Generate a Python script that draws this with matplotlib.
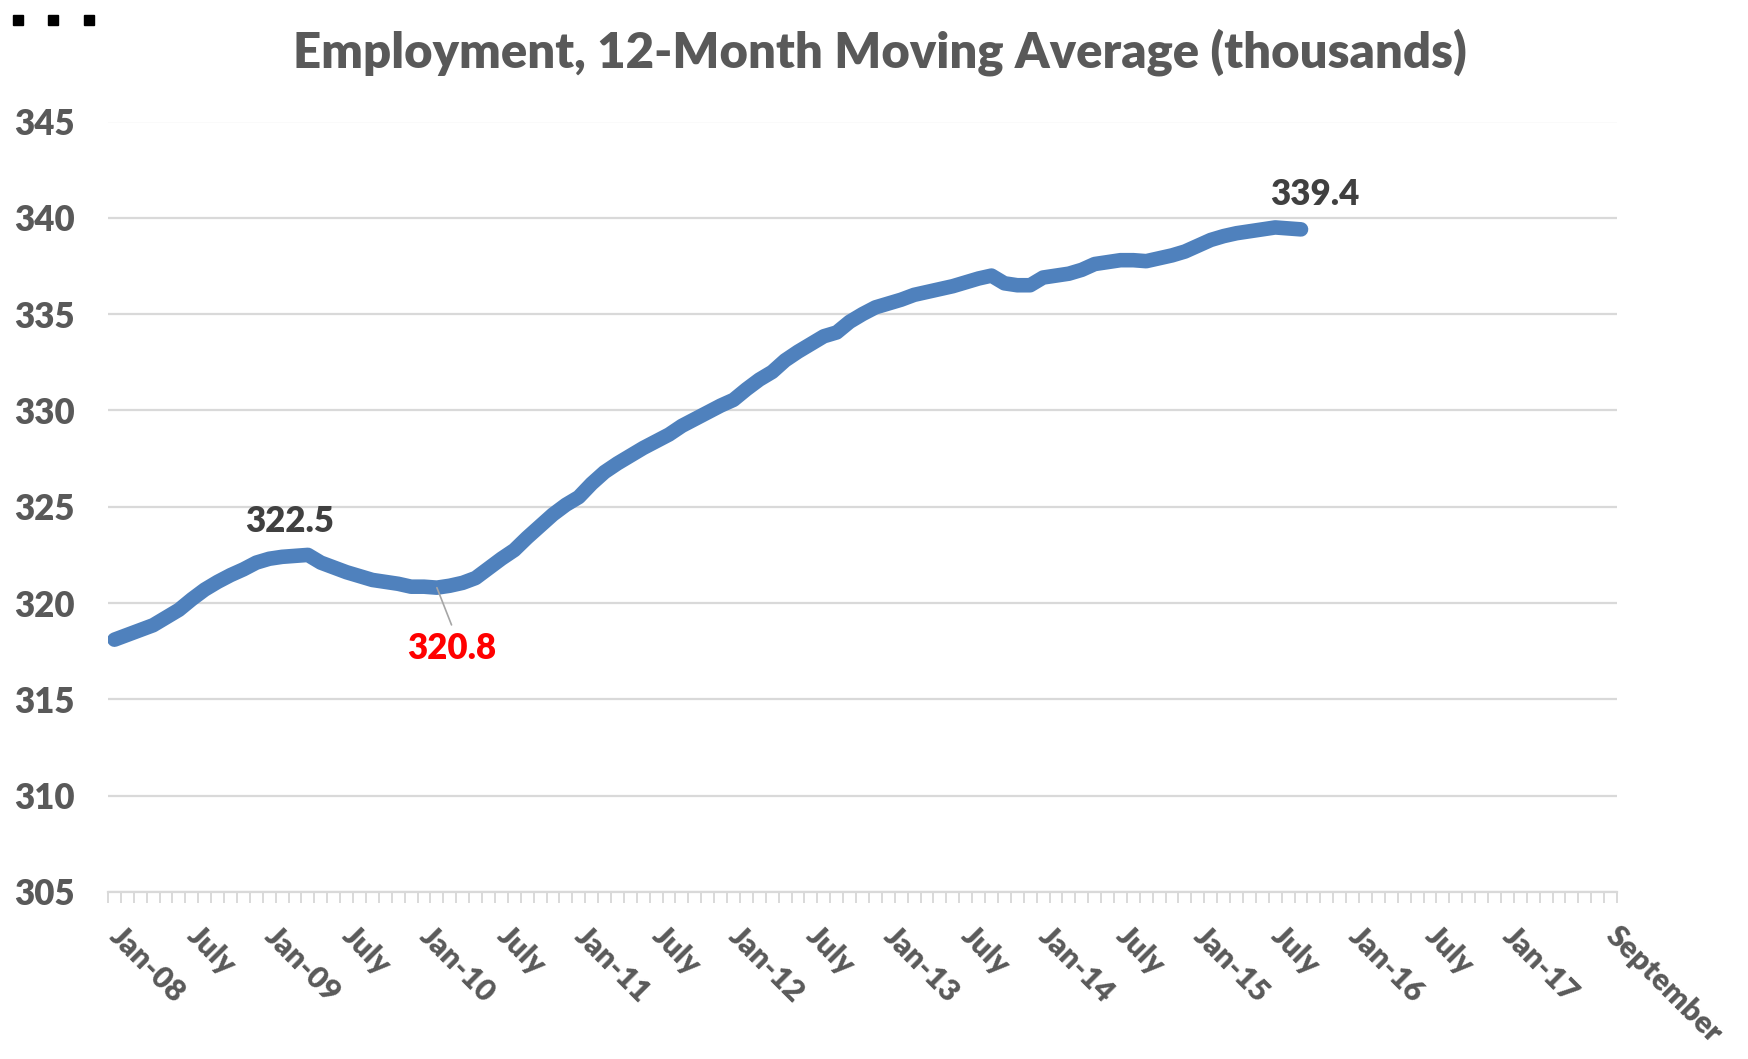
import numpy as np
import matplotlib
matplotlib.use("Agg")
import matplotlib.pyplot as plt
from matplotlib.patches import Rectangle

plt.rcParams['font.family'] = ['Lato', 'DejaVu Sans']

# monthly values, Jan-08 .. Sep-15 (thousands)
employment = [
    318.1, 318.35, 318.6, 318.85, 319.25, 319.65, 320.2, 320.7, 321.1, 321.45,
    321.75, 322.1, 322.3, 322.4, 322.45, 322.5, 322.1, 321.85, 321.6, 321.4,
    321.2, 321.1, 321.0, 320.85, 320.85, 320.8, 320.9, 321.05, 321.3, 321.8,
    322.3, 322.75, 323.4, 324.0, 324.6, 325.1, 325.5, 326.2, 326.8, 327.25,
    327.65, 328.05, 328.4, 328.75, 329.2, 329.55, 329.9, 330.25, 330.55, 331.1,
    331.6, 332.0, 332.6, 333.05, 333.45, 333.85, 334.05, 334.6, 335.0, 335.35,
    335.55, 335.75, 336.0, 336.15, 336.3, 336.45, 336.65, 336.85, 337.0, 336.6,
    336.5, 336.5, 336.9, 337.0, 337.1, 337.3, 337.6, 337.7, 337.8, 337.8,
    337.75, 337.9, 338.05, 338.25, 338.55, 338.85, 339.05, 339.2, 339.3, 339.4,
    339.5, 339.45, 339.4,
]
n_categories = 117  # Jan-08 .. Sep-17 on the category axis

label_months = [0, 6, 12, 18, 24, 30, 36, 42, 48, 54, 60, 66, 72, 78, 84, 90,
                96, 102, 108, 116]
label_texts = ["Jan-08", "July", "Jan-09", "July", "Jan-10", "July", "Jan-11",
               "July", "Jan-12", "July", "Jan-13", "July", "Jan-14", "July",
               "Jan-15", "July", "Jan-16", "July", "Jan-17", "September"]

y_ticks = [305, 310, 315, 320, 325, 330, 335, 340, 345]

# labelled points: (month index, text, colour, offset in points)
callouts = [
    (15, "322.5", "#404040", (-13, 24)),
    (92, "339.4", "#404040", (10, 25)),
]
low_month = 25

GRID = "#D9D9D9"
TXT = "#595959"
WEIGHT = "heavy"

fig = plt.figure(figsize=(17.48, 10.59), dpi=100)
W, H = 1748, 1059
ax = fig.add_axes([108 / W, 1 - 892 / H, (1617 - 108) / W, (892 - 121.5) / H])

x = np.arange(len(employment))
ax.plot(x, employment, color="#4F81BD", lw=10.5, solid_capstyle="round",
        solid_joinstyle="round", zorder=3)

ax.set_xlim(-0.5, n_categories - 0.5)
ax.set_ylim(305, 345)
ax.set_yticks(y_ticks)
ax.set_yticklabels([str(v) for v in y_ticks])
ax.grid(axis="y", color=GRID, lw=1.6)
ax.set_axisbelow(True)

ax.set_xticks(np.arange(n_categories + 1) - 0.5, minor=True)
ax.set_xticks(np.array(label_months) - 0.5)
ax.set_xticklabels(label_texts, rotation=-45, ha="left", va="baseline",
                   rotation_mode="anchor")

for s in ["top", "right", "left"]:
    ax.spines[s].set_visible(False)
ax.spines["bottom"].set_color(GRID)
ax.spines["bottom"].set_linewidth(1.6)

ax.tick_params(axis="x", which="both", length=8, width=1.4, color=GRID,
               direction="out", pad=25)
ax.tick_params(axis="x", labelsize=22, labelcolor=TXT)
ax.tick_params(axis="y", length=0, pad=24, labelsize=25, labelcolor=TXT)
for t in ax.get_xticklabels() + ax.get_yticklabels():
    t.set_fontweight(WEIGHT)

for m, txt, col, off in callouts:
    ax.annotate(txt, xy=(m, employment[m]), xytext=off, textcoords="offset points",
                ha="center", va="center", fontsize=25, fontweight=WEIGHT, color=col)

ax.annotate(f"{employment[low_month]:.1f}", xy=(low_month, employment[low_month]),
            xytext=(10.5, -43.5), textcoords="offset points", ha="center",
            va="center", fontsize=25, fontweight=WEIGHT, color="#FF0000",
            arrowprops=dict(arrowstyle="-", color="#A6A6A6", lw=1.2,
                            relpos=(0.53, 1.0), shrinkA=3, shrinkB=0))

fig.text(880 / W, 1 - 52 / H, "Employment, 12-Month Moving Average (thousands)",
         ha="center", va="center", fontsize=35.3, fontweight=WEIGHT, color=TXT)

# small black squares in the top-left corner
for px in [13, 48, 84]:
    fig.add_artist(Rectangle((px / W, 1 - 25 / H), 9.5 / W, 10 / H,
                             transform=fig.transFigure, color="black"))

fig.savefig("out.png", dpi=100)
